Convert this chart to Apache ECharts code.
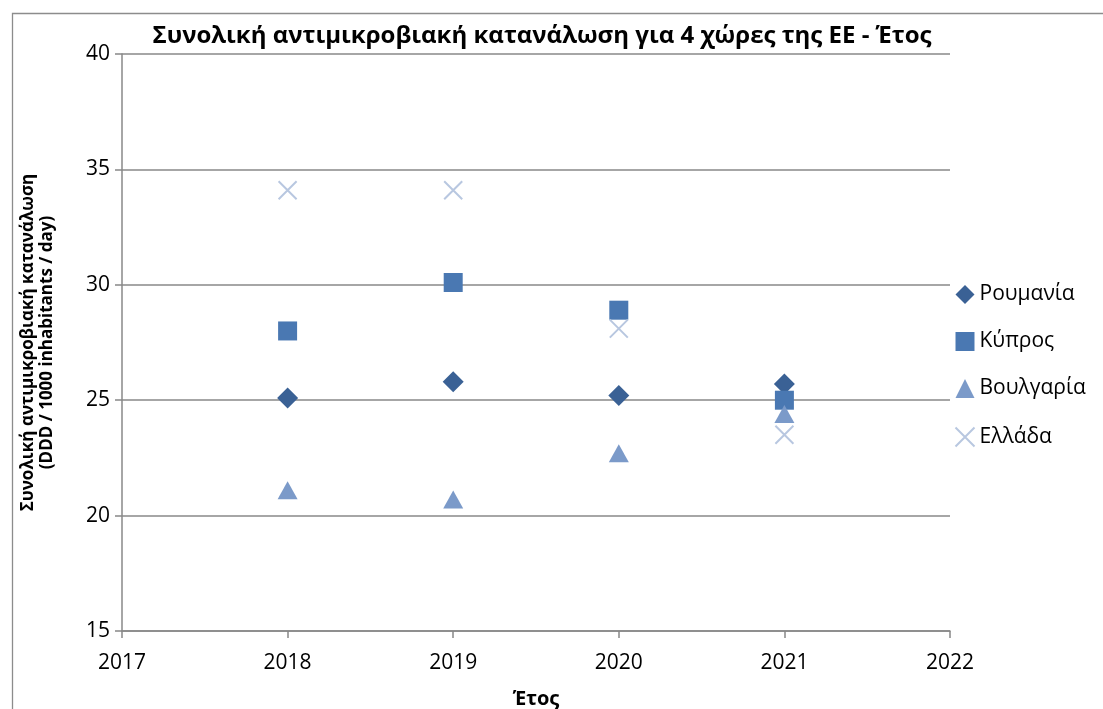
<!DOCTYPE html>
<html>
<head>
<meta charset="utf-8">
<script src="https://cdn.jsdelivr.net/npm/echarts@6/dist/echarts.min.js"></script>
<style>
html,body{margin:0;padding:0;background:#fff;overflow:hidden;}
#main{width:1103px;height:709px;}
</style>
</head>
<body>
<div id="main"></div>
<script>
const years = [2018, 2019, 2020, 2021];
const romania = [25.1, 25.8, 25.2, 25.7];
const cyprus = [28.0, 30.1, 28.9, 25.0];
const bulgaria = [21.1, 20.7, 22.7, 24.4];
const greece = [34.1, 34.1, 28.1, 23.5];
const seriesNames = ['Ρουμανία', 'Κύπρος', 'Βουλγαρία', 'Ελλάδα'];
const titleText = 'Συνολική αντιμικροβιακή κατανάλωση για 4 χώρες της ΕΕ - Έτος';
const yName = 'Συνολική αντιμικροβιακή κατανάλωση\n(DDD / 1000 inhabitants / day)';
const xName = 'Έτος';

const FONT = 'Open Sans';
const pair = (arr) => years.map((y, i) => [y, arr[i]]);
const xPath = 'path://M0,0L10,10M10,0L0,10';

const chart = echarts.init(document.getElementById('main'));
chart.setOption({
  animation: false,
  backgroundColor: '#fff',
  textStyle: { fontFamily: FONT },
  title: {
    text: titleText,
    left: 537, top: 19, textAlign: 'center',
    textStyle: { fontFamily: FONT, fontWeight: 'bold', fontSize: 24, color: '#000' }
  },
  graphic: [{
    type: 'rect', left: 10, top: 11,
    shape: { width: 1200, height: 800 },
    style: { fill: 'none', stroke: '#8c8c8c', lineWidth: 1.3 },
    silent: true, z: -1
  }],
  legend: {
    orient: 'vertical', left: 948, top: 279,
    itemGap: 26, itemWidth: 19, itemHeight: 19,
    textStyle: { fontFamily: FONT, fontSize: 21, color: '#000' },
    data: seriesNames
  },
  grid: { left: 122, right: 153, top: 54, bottom: 78, containLabel: false, outerBoundsMode: 'none' },
  xAxis: {
    type: 'value', min: 2017, max: 2022, interval: 1,
    name: xName, nameLocation: 'middle', nameGap: 58,
    nameTextStyle: { fontFamily: FONT, fontWeight: 'bold', fontSize: 20, color: '#000' },
    axisLine: { lineStyle: { color: '#888', width: 1.5 } },
    axisTick: { show: true, length: 7, lineStyle: { color: '#888', width: 1.5 } },
    axisLabel: { fontFamily: FONT, fontSize: 21, color: '#000', margin: 22, formatter: v => String(v) },
    splitLine: { show: false }
  },
  yAxis: {
    type: 'value', min: 15, max: 40, interval: 5,
    name: yName, nameLocation: 'middle', nameGap: 65, nameRotate: 90,
    nameTextStyle: { fontFamily: FONT, fontWeight: 'bold', fontSize: 17, color: '#000', lineHeight: 19 },
    axisLine: { show: true, lineStyle: { color: '#888', width: 1.5 } },
    axisTick: { show: true, length: 7, lineStyle: { color: '#888', width: 1.5 } },
    axisLabel: { fontFamily: FONT, fontSize: 21, color: '#000', margin: 12 },
    splitLine: { show: true, lineStyle: { color: '#888', width: 1.5 } }
  },
  series: [
    { name: seriesNames[0], type: 'scatter', data: pair(romania), symbol: 'diamond', symbolSize: 21,
      itemStyle: { color: '#3A6195', opacity: 1 } },
    { name: seriesNames[1], type: 'scatter', data: pair(cyprus), symbol: 'rect', symbolSize: 19,
      itemStyle: { color: '#4A78B2', opacity: 1 } },
    { name: seriesNames[2], type: 'scatter', data: pair(bulgaria), symbol: 'triangle', symbolSize: [20, 18],
      itemStyle: { color: '#7B9AC9', opacity: 1 } },
    { name: seriesNames[3], type: 'scatter', data: pair(greece), symbol: xPath, symbolSize: 18,
      itemStyle: { color: 'none', borderColor: '#B8C7E0', borderWidth: 2, opacity: 1 } }
  ]
});
</script>
</body>
</html>
